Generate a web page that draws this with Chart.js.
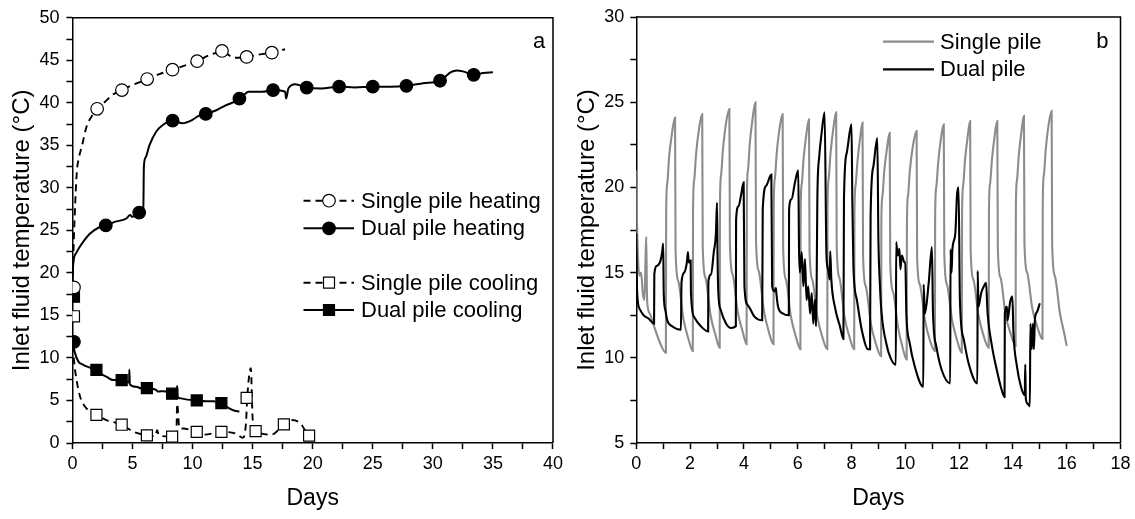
<!DOCTYPE html>
<html>
<head>
<meta charset="utf-8">
<script src="https://cdn.jsdelivr.net/npm/chart.js@4.4.1/dist/chart.umd.min.js"></script>
<style>
  html, body { margin: 0; padding: 0; background: #fff; }
  #wrap { position: relative; width: 1135px; height: 519px; }
  .pane { position: absolute; top: 0; height: 519px; }
  #pa { left: 0; width: 567px; }
  #pb { left: 567px; width: 568px; }
</style>
</head>
<body>
<div id="wrap">
  <div class="pane" id="pa"><canvas id="chartA" width="567" height="519"></canvas></div>
  <div class="pane" id="pb"><canvas id="chartB" width="568" height="519"></canvas></div>
</div>
<script>
// ---- panel a: [day, temperature] ----
const singleHeatLine = [[0.02,18.3],[0.07,21.5],[0.2,27.0],[0.36,31.7],[0.55,33.6],[0.77,34.8],[1.18,37.2],[1.73,38.7],[2.06,39.3],[2.7,40.1],[3.3,40.9],[4.1,41.5],[5.0,42.1],[6.25,42.8],[7.3,43.4],[8.33,43.9],[9.4,44.4],[10.4,44.9],[11.4,45.6],[12.45,46.0],[13.5,45.3],[14.55,45.4],[15.6,45.7],[16.6,45.9],[17.7,46.3]];
const singleHeatMarks = [[0.13,18.3],[2.06,39.3],[4.12,41.5],[6.22,42.8],[8.33,43.9],[10.38,44.9],[12.45,46.1],[14.5,45.4],[16.6,45.9]];

const dualHeatLine = [[0,17.3],[0.02,19.2],[0.07,21.1],[0.3,22.3],[0.63,23.1],[1.45,24.6],[2.28,25.4],[2.78,25.6],[3.52,26.0],[4.49,26.4],[4.8,26.8],[5.0,26.6],[5.56,27.1],[5.9,27.4],[5.95,32.5],[6.1,33.6],[6.41,35.0],[6.97,36.6],[7.52,37.4],[8.34,37.9],[9.17,37.6],[9.99,38.0],[10.55,38.5],[11.1,38.7],[11.93,39.1],[12.75,39.7],[13.9,40.4],[14.68,41.3],[15.78,41.3],[16.7,41.5],[17.71,41.3],[17.79,40.5],[17.98,41.7],[18.54,42.2],[19.5,41.8],[20.73,41.7],[22.2,41.9],[23.5,41.8],[25.0,41.9],[26.5,41.9],[27.8,42.0],[29.2,42.3],[30.6,42.6],[31.5,43.6],[32.0,43.8],[32.5,43.7],[33.4,43.3],[34.2,43.5],[35.0,43.6]];
const dualHeatMarks = [[0.13,11.9],[2.78,25.6],[5.56,27.1],[8.34,37.9],[11.1,38.7],[13.9,40.5],[16.7,41.5],[19.5,41.8],[22.2,41.9],[25.0,41.9],[27.8,42.0],[30.6,42.6],[33.4,43.3]];

const singleCoolLine = [[0.05,11.5],[0.13,9.8],[0.35,7.4],[0.63,5.5],[1.04,4.3],[2.0,3.3],[2.83,2.7],[4.1,2.15],[5.03,1.36],[6.2,0.9],[6.9,0.8],[7.05,1.5],[7.2,0.9],[8.3,0.75],[8.65,0.9],[8.72,4.6],[8.9,1.8],[9.2,1.7],[10.35,1.3],[10.96,0.98],[12.4,1.3],[13.6,1.1],[14.2,0.6],[14.45,2.4],[14.55,5.3],[14.85,8.8],[15.0,2.9],[15.25,1.4],[16.6,1.0],[17.6,2.2],[18.25,2.7],[18.95,2.35],[19.7,0.86],[20.6,0.6]];
const singleCoolMarks = [[0.13,14.9],[2.0,3.3],[4.1,2.15],[6.2,0.9],[8.3,0.75],[10.35,1.3],[12.4,1.3],[14.5,5.3],[15.25,1.4],[17.6,2.2],[19.7,0.86]];

const dualCoolLine = [[0,12.1],[0.1,11.3],[0.21,10.6],[0.49,9.6],[0.9,9.2],[1.4,8.9],[2.0,8.6],[2.4,8.1],[2.83,7.8],[3.38,7.4],[4.1,7.4],[4.6,7.2],[4.72,7.1],[4.74,8.6],[4.78,6.9],[5.31,6.6],[5.8,6.4],[6.2,6.45],[6.97,6.25],[7.1,6.06],[7.6,6.1],[8.3,5.8],[8.7,5.9],[8.72,6.7],[8.76,5.5],[8.88,5.3],[9.57,5.1],[10.35,5.0],[11.1,4.9],[11.7,4.9],[12.4,4.7],[13.02,4.1],[13.5,3.8],[13.9,3.7]];
const dualCoolMarks = [[0.13,17.2],[2.0,8.6],[4.1,7.4],[6.2,6.45],[8.3,5.8],[10.35,5.0],[12.4,4.7]];

// ---- panel b: [day, temperature] ----
const singlePileB = [
[0,21.0],[0.02,18.5],[0.06,16.0],[0.12,14.8],[0.18,15.0],[0.24,13.8],[0.3,13.4],[0.35,16.2],[0.37,17.1],[0.4,13.4],[0.5,12.6],[0.65,11.9],[0.85,11.0],[1.1,10.3],
[1.11,18.6],[1.15,20.2],[1.22,21.8],[1.32,23.1],[1.44,24.1],[1.46,16.3],[1.56,14.5],[1.75,12.3],[1.94,11.1],[2.1,10.4],
[2.11,18.7],[2.15,20.4],[2.22,21.9],[2.32,23.3],[2.45,24.3],[2.47,16.5],[2.57,14.7],[2.76,12.5],[2.95,11.3],[3.1,10.6],
[3.11,19.0],[3.15,20.7],[3.22,22.2],[3.32,23.6],[3.46,24.6],[3.48,16.7],[3.58,14.9],[3.77,12.7],[3.96,11.5],[4.1,10.8],
[4.11,19.3],[4.15,21.0],[4.22,22.6],[4.32,24.0],[4.43,25.0],[4.45,16.9],[4.55,15.1],[4.74,12.8],[4.93,11.5],[5.1,10.8],
[5.11,18.9],[5.15,20.5],[5.22,22.0],[5.32,23.4],[5.44,24.3],[5.46,16.4],[5.56,14.6],[5.75,12.4],[5.94,11.2],[6.1,10.5],
[6.11,18.6],[6.15,20.2],[6.22,21.7],[6.32,23.1],[6.42,24.0],[6.44,16.3],[6.54,14.6],[6.73,12.4],[6.92,11.2],[7.1,10.5],
[7.11,18.8],[7.15,20.5],[7.22,22.0],[7.32,23.4],[7.43,24.4],[7.45,16.5],[7.55,14.7],[7.74,12.4],[7.93,11.2],[8.1,10.5],
[8.11,18.5],[8.15,20.1],[8.22,21.5],[8.32,22.9],[8.41,23.8],[8.43,16.0],[8.53,14.2],[8.72,12.0],[8.91,10.8],[9.1,10.1],
[9.11,18.0],[9.15,19.5],[9.22,21.0],[9.32,22.3],[9.42,23.2],[9.44,15.6],[9.54,13.9],[9.73,11.8],[9.9,10.6],[10.05,9.9],
[10.06,17.9],[10.1,19.5],[10.17,21.0],[10.28,22.4],[10.42,23.3],[10.44,15.9],[10.54,14.3],[10.73,12.2],[10.92,11.0],[11.1,10.4],
[11.11,18.4],[11.15,20.0],[11.22,21.4],[11.32,22.8],[11.43,23.7],[11.45,16.1],[11.55,14.3],[11.74,12.2],[11.93,11.0],[12.1,10.3],
[12.11,18.5],[12.15,20.1],[12.22,21.6],[12.32,23.0],[12.41,23.9],[12.43,16.3],[12.53,14.6],[12.72,12.5],[12.91,11.3],[13.1,10.6],
[13.11,18.6],[13.15,20.2],[13.22,21.6],[13.32,23.0],[13.42,23.9],[13.44,16.4],[13.54,14.7],[13.73,12.5],[13.92,11.4],[14.1,10.7],
[14.11,18.8],[14.15,20.4],[14.22,21.9],[14.32,23.3],[14.41,24.2],[14.43,16.7],[14.53,15.0],[14.72,12.9],[14.91,11.8],[15.1,11.1],
[15.11,19.1],[15.15,20.7],[15.22,22.2],[15.32,23.6],[15.44,24.5],[15.46,16.6],[15.56,14.8],[15.75,12.6],[15.9,11.5],[16.0,10.7]
];

const dualPileB = [
[0,17.3],[0.02,14.5],[0.05,13.4],[0.15,12.8],[0.27,12.5],[0.46,12.3],[0.66,12.0],
[0.67,14.9],[0.77,15.4],[0.9,15.7],[0.96,16.2],[1.0,16.7],[1.02,13.8],[1.08,12.8],[1.15,12.2],[1.33,11.85],[1.66,11.65],
[1.68,14.4],[1.78,15.0],[1.88,15.6],[1.92,16.2],[1.95,15.6],[2.02,15.7],[2.03,13.9],[2.15,12.4],[2.4,11.85],[2.67,11.55],
[2.68,14.5],[2.78,14.9],[2.88,16.2],[2.96,17.3],[3.0,19.1],[3.02,16.0],[3.05,13.8],[3.14,12.8],[3.34,12.0],[3.52,11.75],[3.7,11.85],
[3.71,18.1],[3.8,18.9],[3.9,19.6],[3.99,20.3],[4.02,14.2],[4.14,13.1],[4.4,12.4],[4.68,12.2],
[4.7,18.7],[4.83,20.1],[5.02,20.75],[5.05,14.2],[5.14,13.9],[5.19,14.1],[5.2,13.9],[5.27,13.0],[5.45,12.6],[5.67,12.5],
[5.68,18.7],[5.77,19.3],[5.9,20.3],[6.02,21.0],[6.05,16.35],[6.08,15.0],[6.15,16.2],[6.21,14.2],[6.27,15.8],[6.33,13.4],[6.39,14.2],[6.46,12.6],[6.52,13.8],[6.58,12.0],[6.64,13.4],[6.68,11.85],
[6.7,13.4],[6.73,19.3],[6.8,21.8],[6.89,23.2],[7.0,24.4],[7.07,15.95],[7.13,15.2],[7.19,14.6],[7.21,16.25],[7.25,14.6],[7.38,13.0],[7.57,11.85],[7.7,11.1],
[7.72,19.3],[7.82,22.0],[8.0,23.7],[8.03,19.3],[8.07,15.4],[8.2,13.4],[8.38,11.65],[8.62,10.5],[8.69,10.5],
[8.71,18.3],[8.81,21.2],[8.96,22.9],[9.0,17.0],[9.05,14.5],[9.12,12.6],[9.3,10.8],[9.45,10.0],[9.65,9.6],
[9.66,16.8],[9.72,16.0],[9.78,16.4],[9.82,15.2],[9.87,16.0],[9.97,15.6],[10.0,15.6],[10.04,12.6],[10.16,10.9],[10.35,9.5],[10.67,8.3],
[10.68,14.3],[10.73,12.6],[10.87,14.4],[10.99,16.5],[11.03,12.6],[11.15,10.7],[11.35,9.3],[11.67,8.5],
[11.68,16.35],[11.72,15.0],[11.75,16.35],[11.86,17.3],[11.92,19.5],[11.98,20.0],[12.03,13.4],[12.17,11.1],[12.35,9.7],[12.68,8.5],
[12.69,15.1],[12.72,13.0],[12.82,13.8],[12.92,14.2],[13.0,14.4],[13.06,12.6],[13.22,10.7],[13.4,9.3],[13.55,8.3],[13.69,7.7],
[13.7,12.6],[13.78,13.0],[13.8,12.2],[13.9,13.3],[13.98,13.6],[14.02,11.5],[14.15,9.5],[14.3,8.3],[14.44,7.8],[14.46,9.6],[14.48,7.6],[14.55,7.3],[14.63,7.15],
[14.65,12.0],[14.7,10.5],[14.74,12.0],[14.78,10.5],[14.82,12.3],[14.9,12.7],[15.0,13.2]
];

const legendA = ["Single pile heating", "Dual pile heating", "Single pile cooling", "Dual pile cooling"];
const legendB = ["Single pile", "Dual pile"];
const GRAY = "#8c8c8c";
const FONT = "'Liberation Sans', Arial, sans-serif";

const toXY = arr => arr.map(p => ({ x: p[0], y: p[1] }));

function lineSet(arr, color, dash, width) {
  return { data: toXY(arr), borderColor: color, borderWidth: width, borderDash: dash,
           pointRadius: 0, fill: false, cubicInterpolationMode: "monotone", order: 1, clip: 0 };
}
function markSet(arr, style, filled) {
  return { data: toXY(arr), showLine: false, pointStyle: style,
           pointRadius: style === "rect" ? 7.8 : 6.3,
           pointBackgroundColor: filled ? "#000" : "#fff", pointBorderColor: "#000",
           pointBorderWidth: 1.2, order: 0, clip: 0 };
}

function axis(min, max, step, major, title, fit, titlePad, tickPad, titleSize) {
  return {
    type: "linear", min: min, max: max,
    border: { display: true, color: "#000", width: 1.5 },
    grid: { drawOnChartArea: false, drawTicks: true, tickLength: 6, tickColor: "#000", tickWidth: 1.5 },
    ticks: {
      stepSize: step, autoSkip: false, maxRotation: 0, color: "#000", padding: tickPad,
      font: { family: FONT, size: 18 },
      callback: v => (Math.abs(v / major - Math.round(v / major)) < 1e-6 ? v : "")
    },
    title: { display: true, text: title, color: "#000", font: { family: FONT, size: titleSize }, padding: titlePad },
    afterFit: fit
  };
}

// box on top and right + legend + panel letter
function decor(letter, legendDraw) {
  return {
    id: "decor" + letter.t,
    afterDraw(chart) {
      const { ctx, chartArea: a } = chart;
      ctx.save();
      ctx.strokeStyle = "#000";
      ctx.lineWidth = 1.5;
      ctx.beginPath();
      ctx.moveTo(a.left, a.top);
      ctx.lineTo(a.right, a.top);
      ctx.lineTo(a.right, a.bottom);
      ctx.stroke();
      ctx.fillStyle = "#000";
      ctx.font = "22px " + FONT;
      ctx.textBaseline = "middle";
      ctx.textAlign = "center";
      ctx.fillText(letter.t, letter.x, letter.y);
      legendDraw(ctx);
      ctx.restore();
    }
  };
}

function drawMarker(ctx, style, filled, x, y) {
  ctx.fillStyle = filled ? "#000" : "#fff";
  ctx.strokeStyle = "#000";
  ctx.lineWidth = 1.2;
  ctx.beginPath();
  if (style === "circle") ctx.arc(x, y, 6.3, 0, Math.PI * 2);
  else ctx.rect(x - 5.5, y - 5.5, 11, 11);
  ctx.fill();
  ctx.stroke();
}

function legendPanelA(ctx) {
  const rows = [200.7, 228.3, 282.7, 310];
  const styles = [["circle", false, [7, 5]], ["circle", true, []], ["rect", false, [7, 5]], ["rect", true, []]];
  rows.forEach((y, i) => {
    const [st, filled, dash] = styles[i];
    ctx.strokeStyle = "#000";
    ctx.lineWidth = 1.9;
    ctx.setLineDash(dash);
    ctx.beginPath();
    ctx.moveTo(303.5, y);
    ctx.lineTo(354, y);
    ctx.stroke();
    ctx.setLineDash([]);
    drawMarker(ctx, st, filled, 329, y);
    ctx.fillStyle = "#000";
    ctx.font = "22px " + FONT;
    ctx.textAlign = "left";
    ctx.textBaseline = "middle";
    ctx.fillText(legendA[i], 361, y + 1);
  });
}

function legendPanelB(ctx) {
  const rows = [41.7, 69.3];
  const colors = [GRAY, "#000"];
  rows.forEach((y, i) => {
    ctx.strokeStyle = colors[i];
    ctx.lineWidth = 2.2;
    ctx.beginPath();
    ctx.moveTo(316, y);
    ctx.lineTo(367, y);
    ctx.stroke();
    ctx.fillStyle = "#000";
    ctx.font = "22px " + FONT;
    ctx.textAlign = "left";
    ctx.textBaseline = "middle";
    ctx.fillText(legendB[i], 373, y + 1);
  });
}

Chart.defaults.font.family = FONT;

new Chart(document.getElementById("chartA"), {
  type: "line",
  data: {
    datasets: [
      markSet(singleHeatMarks, "circle", false),
      markSet(dualHeatMarks, "circle", true),
      markSet(singleCoolMarks, "rect", false),
      markSet(dualCoolMarks, "rect", true),
      lineSet(singleHeatLine, "#000", [7, 5], 1.9),
      lineSet(dualHeatLine, "#000", [], 2.0),
      lineSet(singleCoolLine, "#000", [7, 5], 1.9),
      lineSet(dualCoolLine, "#000", [], 2.0)
    ]
  },
  options: {
    responsive: false, animation: false, devicePixelRatio: 1,
    layout: { padding: { top: 17, right: 10.5, left: 0, bottom: 0 } },
    plugins: { legend: { display: false }, tooltip: { enabled: false } },
    scales: {
      x: axis(0, 40, 2.5, 5, "Days", s => { s.height = 76; }, { top: 0, bottom: 7 }, 4, 23),
      y: axis(0, 50, 2.5, 5, "Inlet fluid temperature (\u00B0C)", s => { s.width = 72.4; }, { top: 8, bottom: 0 }, 7, 24)
    }
  },
  plugins: [decor({ t: "a", x: 539, y: 42 }, legendPanelA)]
});

new Chart(document.getElementById("chartB"), {
  type: "line",
  data: {
    datasets: [
      lineSet(dualPileB, "#000", [], 2.1),
      lineSet(singlePileB, GRAY, [], 2.1)
    ]
  },
  options: {
    responsive: false, animation: false, devicePixelRatio: 1,
    layout: { padding: { top: 17, right: 14.5, left: 0, bottom: 0 } },
    plugins: { legend: { display: false }, tooltip: { enabled: false } },
    scales: {
      x: axis(0, 18, 1, 2, "Days", s => { s.height = 76; }, { top: 0, bottom: 7 }, 4, 23),
      y: axis(5, 30, 2.5, 5, "Inlet fluid temperature (\u00B0C)", s => { s.width = 69.3; }, { top: 6, bottom: 0 }, 6, 24)
    }
  },
  plugins: [decor({ t: "b", x: 535.4, y: 42 }, legendPanelB)]
});
</script>
</body>
</html>
